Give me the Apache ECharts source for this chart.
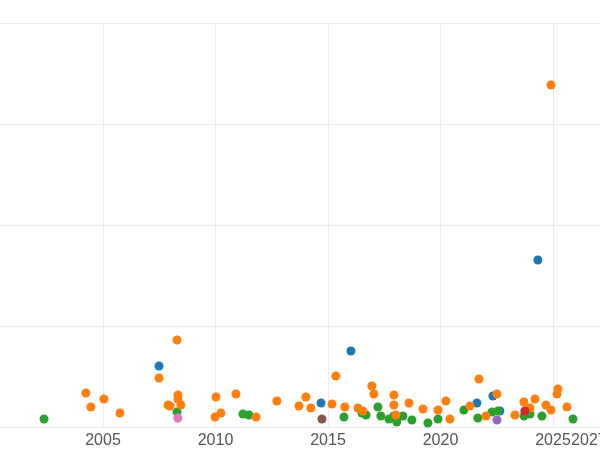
<!DOCTYPE html><html><head><meta charset="utf-8"><script src="https://cdn.jsdelivr.net/npm/echarts@6/dist/echarts.min.js"></script></head><body style="margin:0"><div id="c" style="width:600px;height:450px"></div><script>
const green=[[2002.38,8],[2008.29,15],[2011.22,13],[2011.49,12],[2015.71,10],[2016.51,14],[2016.69,12],[2017.22,20],[2017.35,11],[2017.71,8],[2017.93,11],[2018.06,5],[2018.33,11],[2018.73,7],[2019.44,4],[2019.89,8],[2021.04,17],[2021.66,9],[2022.29,15],[2022.55,16],[2023.71,11],[2023.98,13],[2024.51,11],[2025.89,8]];
const orange=[[2004.24,34],[2004.46,20],[2005.04,28],[2005.75,14],[2007.49,49],[2007.89,22],[2007.98,21],[2008.29,87],[2008.33,32],[2008.33,28],[2008.46,22],[2010.02,30],[2009.98,10],[2010.24,14],[2010.91,33],[2011.80,10],[2012.73,26],[2013.71,21],[2014.02,30],[2014.24,19],[2015.18,23],[2015.35,51],[2015.75,20],[2016.33,19],[2016.55,16],[2016.95,41],[2017.04,33],[2017.93,32],[2017.93,22],[2018.02,12],[2018.60,24],[2019.22,18],[2019.89,17],[2020.24,26],[2020.42,8],[2021.31,21],[2021.71,48],[2022.02,11],[2022.51,33],[2023.31,12],[2023.71,25],[2023.98,19],[2024.20,28],[2024.69,22],[2024.91,17],[2024.91,342],[2025.18,33],[2025.22,38],[2025.62,20]];
const blue=[[2007.49,61],[2014.69,24],[2016.02,76],[2021.62,24],[2022.33,31],[2024.33,167],[2022.64,16]];
const red=[[2023.75,16]];
const purple=[[2022.51,7]];
const brown=[[2014.73,8]];
const pink=[[2008.33,9]];
const groups=[[blue,'#1f77b4'],[green,'#2ca02c'],[orange,'#ff7f0e'],[red,'#d62728'],[purple,'#9467bd'],[brown,'#8c564b'],[pink,'#e377c2']];
const ch=echarts.init(document.getElementById('c'));
ch.setOption({animation:false,
grid:{left:-9.5,right:0,top:23,bottom:23,containLabel:false,outerBoundsMode:'none'},
xAxis:{type:'value',min:2000,max:2027.09,interval:5,axisLine:{show:false},axisTick:{show:false},
 axisLabel:{color:'#555',fontSize:16,formatter:v=>v===2000?'':String(v),margin:6},
 splitLine:{lineStyle:{color:'#ebebeb'}}},
yAxis:{type:'value',min:0,max:404,interval:101,axisLine:{show:false},axisTick:{show:false},axisLabel:{show:false},splitLine:{lineStyle:{color:'#ebebeb'}}},
series:groups.map(([d,c])=>({type:'scatter',data:d,symbolSize:9,itemStyle:{color:c,opacity:1}}))});
</script></body></html>
